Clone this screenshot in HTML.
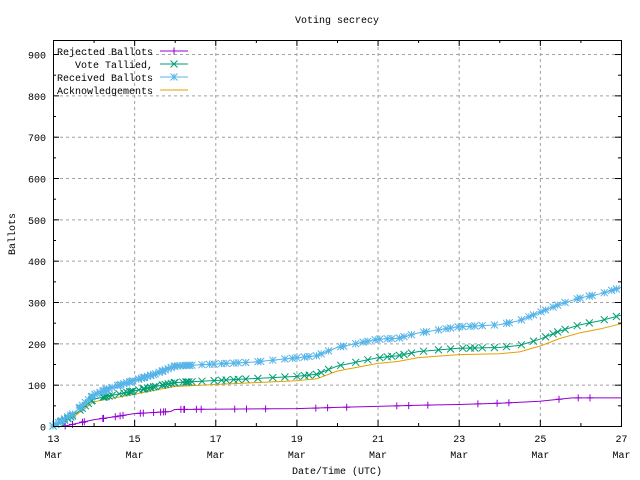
<!DOCTYPE html>
<html><head><style>
body{margin:0;background:#fff}
svg{display:block;font-family:"Liberation Mono",monospace;font-size:10px}
</style></head><body>
<svg id="s" width="640" height="480" xmlns="http://www.w3.org/2000/svg">
<rect width="640" height="480" fill="#fff"/>
<g id="grid" stroke="#a0a0a0" stroke-dasharray="3,3" stroke-width="1"></g>
<g id="ser"></g>
<rect x="53.5" y="40.5" width="568" height="386" fill="none" stroke="#000"/>
<g id="tk" stroke="#000"></g>
<g id="lbl"></g>
<text x="337" y="23" text-anchor="middle">Voting secrecy</text>
<text x="337" y="474" text-anchor="middle">Date/Time (UTC)</text>
<text transform="translate(15,234) rotate(-90)" text-anchor="middle">Ballots</text>
<g id="leg"></g>
</svg>
<script>
const NS="http://www.w3.org/2000/svg";
function el(p,t,a,txt){const e=document.createElementNS(NS,t);for(const k in a)e.setAttribute(k,a[k]);if(txt!=null)e.textContent=txt;document.getElementById(p).appendChild(e);return e;}
const X=d=>53+(d-13)*40.57, Y=v=>426-v*0.4133;
for(let v=0;v<=900;v+=100){const y=Y(v)+.5;
 if(v>0)el('grid','line',{x1:54,x2:621,y1:y,y2:y});
 el('tk','line',{x1:53,x2:59,y1:y,y2:y});el('tk','line',{x1:615,x2:621,y1:y,y2:y});
 el('lbl','text',{x:46,y:y+4,'text-anchor':'end'},v);}
for(let v=50;v<900;v+=100){const y=Y(v)+.5;el('tk','line',{x1:53,x2:56,y1:y,y2:y});el('tk','line',{x1:618,x2:621,y1:y,y2:y});}
for(let d=13;d<=27;d++){const x=X(d)+.5;const maj=(d%2==1);
 if(maj&&d>13&&d<27)el('grid','line',{x1:x,x2:x,y1:41,y2:426});
 el('tk','line',{x1:x,x2:x,y1:426,y2:maj?420:423});el('tk','line',{x1:x,x2:x,y1:40,y2:maj?46:43});
 if(maj){el('lbl','text',{x:x,y:442,'text-anchor':'middle'},d);el('lbl','text',{x:x,y:458,'text-anchor':'middle'},'Mar');}}
function interp(pts,d){for(let i=1;i<pts.length;i++)if(d<=pts[i][0]){const a=pts[i-1],b=pts[i];return a[1]+(b[1]-a[1])*(d-a[0])/(b[0]-a[0]);}return pts[pts.length-1][1];}
const f=n=>(+n).toFixed(1);
function mkPath(mk,x,y){const s=3.5;x=+x;y=+y;
 if(mk=='+')return `M${f(x-s)},${f(y)}H${f(x+s)}M${f(x)},${f(y-s)}V${f(y+s)}`;
 if(mk=='x')return `M${f(x-s)},${f(y-s)}L${f(x+s)},${f(y+s)}M${f(x-s)},${f(y+s)}L${f(x+s)},${f(y-s)}`;
 return `M${f(x-s)},${f(y)}H${f(x+s)}M${f(x)},${f(y-s)}V${f(y+s)}M${f(x-s)},${f(y-s)}L${f(x+s)},${f(y+s)}M${f(x-s)},${f(y+s)}L${f(x+s)},${f(y-s)}`;}
function series(pts,color,mk,n){
 let path='';for(let i=0;i<pts.length;i++){const [d,v]=pts[i];path+=(i?'L':'M')+f(X(d))+','+f(Y(v));}
 el('ser','path',{d:path,fill:'none',stroke:color,'stroke-width':1});
 if(!mk)return;
 let m='';const a=pts[0][0],b=pts[pts.length-1][0];
 for(let i=0;i<n;i++){let t=((i*0.6180339)%1);
  let d=a+(b-a)*(i%3==0?t*0.25:t);
  m+=mkPath(mk,X(d),Y(interp(pts,d)));}
 el('ser','path',{d:m,stroke:color,'stroke-width':1,fill:'none'});}
const blue=[[13,0],[13.5,30],[14,75],[14.5,95],[15,110],[15.5,125],[16,145],[17,150],[18,155],[19,165],[19.5,170],[20,190],[21,210],[21.5,212],[22,225],[23,240],[24,245],[24.5,255],[25,275],[25.5,295],[26,310],[26.5,320],[27,335]];
const green=[[13,0],[13.5,25],[14,65],[14.5,75],[15,85],[15.5,95],[16,105],[17,110],[18,115],[19,120],[19.5,125],[20,145],[21,165],[21.5,170],[22,180],[23,188],[24,190],[24.5,195],[25,210],[25.5,230],[26,245],[26.5,255],[27,268]];
const orange=green.map(([d,v])=>[d,Math.max(0,v*0.93-2)]);
const purple=[[13.3,0],[14,15],[14.5,22],[15,30],[15.9,35],[16,40],[19,42],[20,45],[22,50],[23,52],[24,55],[25,60],[25.8,68],[27,68]];
series(orange,'#e69f00',null);
series(green,'#009e73','x',90);
series(blue,'#56b4e9','*',120);
series(purple,'#9400d3','+',35);
const L=[['Rejected Ballots','#9400d3','+'],['Vote Tallied,','#009e73','x'],['Received Ballots','#56b4e9','*'],['Acknowledgements','#e69f00',null]];
L.forEach((r,i)=>{const y=51+i*13;el('leg','text',{x:153,y:y+4,'text-anchor':'end'},r[0]);
 el('leg','line',{x1:160,x2:188,y1:y,y2:y,stroke:r[1]});
 if(r[2])el('leg','path',{d:mkPath(r[2],174,y),stroke:r[1],fill:'none'});});
</script>
</body></html>
